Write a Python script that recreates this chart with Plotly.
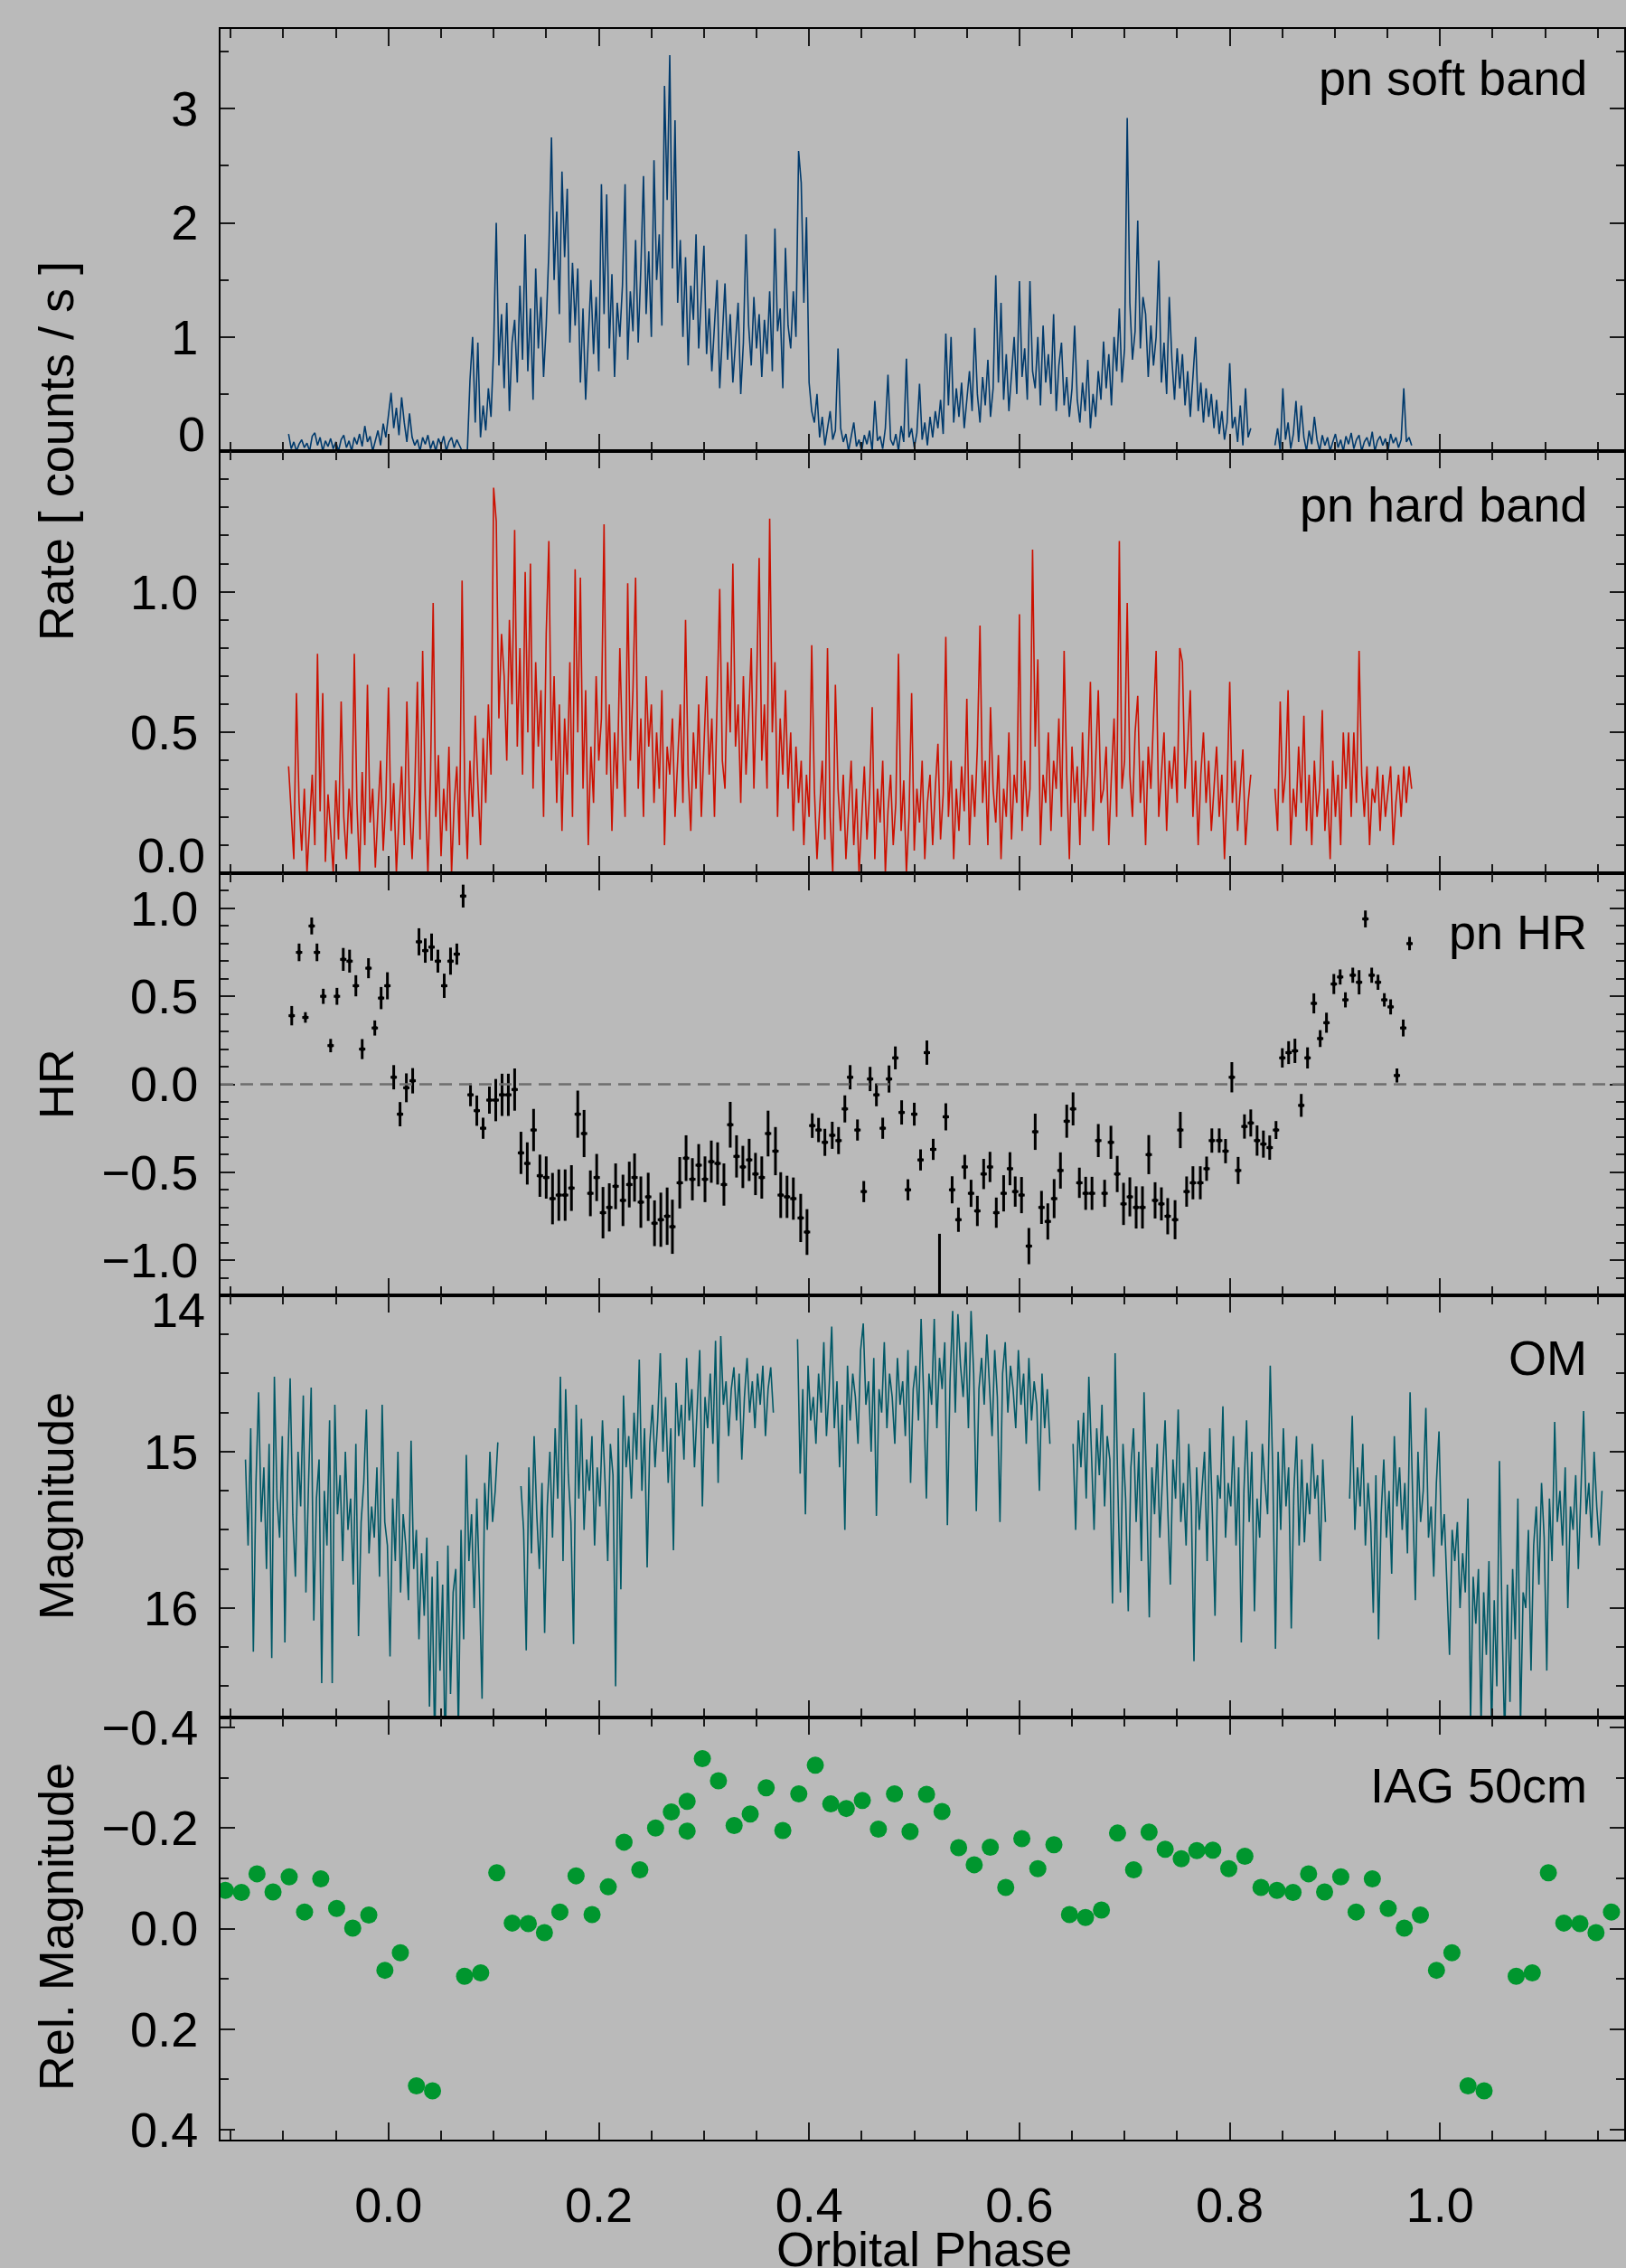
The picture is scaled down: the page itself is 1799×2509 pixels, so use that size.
import numpy as np
import plotly.graph_objects as go
from plotly.subplots import make_subplots

FONT = "Liberation Sans, Arial, Helvetica, sans-serif"
BG = "#bababa"
BIN = 0.0025  # phase width of one light-curve bin

# ---------------- EPIC-pn soft band (counts/s), two exposure segments ----------------
soft_start = [-0.095, 0.843]
soft_rate_1 = [
    0.15, 0.02, 0.08, 0.0, 0.06, 0.1, 0.03, 0.07, 0.0, 0.13,
    0.16, 0.05, 0.12, 0.0, 0.09, 0.04, 0.11, 0.02, 0.08, 0.0,
    0.1, 0.14, 0.03, 0.09, 0.0, 0.12, 0.06, 0.15, 0.04, 0.22,
    0.08, 0.13, 0.0, 0.1, 0.18, 0.05, 0.24, 0.12, 0.3, 0.51,
    0.2, 0.38, 0.14, 0.47, 0.25, 0.08, 0.33, 0.12, 0.05, 0.1,
    0.0, 0.12, 0.06, 0.14, 0.02, 0.09, 0.0, 0.11, 0.05, 0.13,
    0.0, 0.08, 0.12, 0.03, 0.1, 0.05, 0.0, 0.0, 0.0, 0.62,
    1.0, 0.25, 0.95, 0.12, 0.4, 0.18, 0.55, 0.3, 0.9, 2.0,
    0.75, 1.2, 0.55, 1.3, 0.35, 0.95, 1.15, 0.6, 1.45, 0.8,
    1.9, 0.7, 1.25, 0.45, 1.6, 0.9, 1.35, 0.65, 1.1, 1.75,
    2.75, 1.5, 2.1, 1.2, 2.45, 1.7, 2.3, 0.95, 1.65, 1.1,
    1.6, 0.6, 1.25, 0.45, 1.05, 1.5, 0.85, 1.35, 0.7, 2.34,
    1.2, 2.25, 0.9, 1.55, 0.65, 1.3, 1.0, 1.45, 2.34, 0.8,
    1.4, 1.05, 1.85, 0.95, 1.6, 2.41, 1.2, 1.75, 1.0, 2.55,
    1.5, 1.9, 1.1, 3.2, 2.2, 3.47, 1.6, 2.9, 1.3, 1.85,
    1.0, 1.7, 0.75, 1.45, 1.15, 1.9, 0.9, 1.35, 1.8, 0.85,
    1.25, 0.7, 1.1, 1.5, 0.55, 1.05, 1.47, 0.8, 1.2, 0.6,
    1.0, 1.3, 0.5, 0.95, 1.9, 1.1, 0.75, 1.35, 0.9, 1.2,
    0.65, 1.15, 0.85, 1.4, 0.7, 1.95, 1.05, 1.25, 0.55, 1.78,
    1.1, 0.9, 1.4, 1.0, 2.63, 2.35, 1.3, 2.05, 0.6, 0.35,
    0.25, 0.5, 0.12, 0.3, 0.05, 0.2, 0.35, 0.1, 0.18, 0.9,
    0.2, 0.08, 0.15, 0.0, 0.12, 0.25, 0.04, 0.1, 0.0, 0.14,
    0.06, 0.18, 0.0, 0.44, 0.09, 0.13, 0.02, 0.2, 0.67, 0.1,
    0.05, 0.15, 0.0, 0.22, 0.08, 0.81, 0.12, 0.2, 0.03, 0.16,
    0.59, 0.1, 0.25, 0.05, 0.3, 0.12, 0.35, 0.2, 0.45, 0.15,
    1.03, 0.4, 1.0, 0.25, 0.55, 0.3, 0.6, 0.2, 0.45, 0.7,
    0.35, 1.08, 0.5, 0.25, 0.65, 0.4, 0.8, 0.3, 0.55, 1.54,
    0.6, 1.3, 0.45, 0.85, 0.35, 0.7, 1.0, 0.5, 1.49, 0.65,
    0.9, 0.45, 1.49, 0.7, 0.55, 1.0, 0.4, 1.1, 0.6, 0.85,
    0.5, 1.2, 0.35, 0.75, 0.95, 0.4, 0.65, 0.3, 0.55, 1.1,
    0.45, 0.25, 0.6, 0.35, 0.8, 0.2, 0.5, 0.3, 0.7, 0.45,
    0.96, 0.55, 0.85, 0.4, 1.0, 0.7, 1.25, 0.6, 0.9, 2.92,
    1.3, 0.8, 1.05, 2.02, 0.9, 1.35, 1.2, 0.65, 1.1, 0.75,
    1.0, 1.67, 0.6, 0.95, 0.5, 1.35, 0.8, 0.45, 0.9, 0.55,
    0.85, 0.4, 0.7, 0.3, 0.65, 1.0, 0.35, 0.6, 0.25, 0.55,
    0.3, 0.5, 0.2, 0.45, 0.15, 0.35, 0.1, 0.25, 0.77, 0.2,
    0.3, 0.08, 0.4, 0.05, 0.55, 0.12, 0.2,
]
soft_rate_2 = [
    0.05, 0.2, 0.0, 0.55, 0.1, 0.25, 0.02, 0.15, 0.44, 0.08,
    0.4, 0.12, 0.0, 0.18, 0.06, 0.3, 0.1, 0.0, 0.14, 0.05,
    0.12, 0.0, 0.08, 0.15, 0.03, 0.1, 0.0, 0.13, 0.06, 0.16,
    0.02, 0.1, 0.14, 0.0, 0.08, 0.12, 0.04, 0.17, 0.0, 0.09,
    0.13, 0.05, 0.11, 0.0, 0.15, 0.07, 0.12, 0.03, 0.1, 0.55,
    0.08, 0.12, 0.05,
]

# ---------------- EPIC-pn hard band (counts/s) ----------------
hard_rate_1 = [
    0.38, 0.2, 0.05, 0.64, 0.25, 0.08, 0.3, 0.0, 0.18, 0.35,
    0.1, 0.78, 0.22, 0.64, 0.04, 0.28, 0.15, 0.0, 0.33, 0.12,
    0.61, 0.2, 0.05, 0.3, 0.14, 0.78, 0.25, 0.0, 0.36, 0.1,
    0.67, 0.18, 0.3, 0.02, 0.22, 0.4, 0.08, 0.26, 0.66, 0.15,
    0.32, 0.0, 0.2, 0.38, 0.1, 0.61, 0.24, 0.05, 0.3, 0.68,
    0.12, 0.79, 0.28, 0.0, 0.35, 0.96, 0.2, 0.42, 0.06, 0.3,
    0.15, 0.45, 0.0, 0.25, 0.38, 0.1, 1.04, 0.3, 0.05, 0.4,
    0.2, 0.56, 0.32, 0.1, 0.48, 0.25, 0.6, 0.35, 1.37, 1.25,
    0.55, 0.85, 0.7, 0.4, 0.9, 0.6, 1.22, 0.45, 0.8, 0.35,
    1.07, 0.5, 1.1, 0.3, 0.75, 0.45, 0.65, 0.2, 0.85, 1.18,
    0.4, 0.7, 0.25, 0.6, 0.15, 0.55, 0.35, 0.75, 0.2, 1.08,
    0.5, 1.05, 0.3, 0.65, 0.1, 0.45, 0.25, 0.7, 0.4, 0.55,
    1.24, 0.35, 0.6, 0.15, 0.5, 0.3, 0.8, 0.45, 0.2, 1.03,
    0.4, 0.65, 1.05, 0.3, 0.55, 0.2, 0.7, 0.45, 0.6, 0.25,
    0.5, 0.3, 0.65, 0.1, 0.45, 0.35, 0.55, 0.2, 0.4, 0.6,
    0.25, 0.9, 0.35, 0.15, 0.5, 0.3, 0.6, 0.2, 0.45, 0.7,
    0.35, 0.55, 0.2, 0.65, 1.01, 0.4, 0.3, 0.75, 0.5, 1.1,
    0.45, 0.6, 0.25, 0.7, 0.35, 0.55, 0.8, 0.3, 0.65, 1.12,
    0.4, 0.6, 0.3, 1.26, 0.5, 0.75, 0.2, 0.55, 0.35, 0.65,
    0.3, 0.5, 0.15, 0.45, 0.25, 0.4, 0.1, 0.35, 0.2, 0.81,
    0.3, 0.05, 0.25, 0.4, 0.12, 0.8, 0.2, 0.0, 0.67, 0.3,
    0.15, 0.35, 0.05, 0.25, 0.4, 0.1, 0.3, 0.0, 0.2, 0.38,
    0.12, 0.28, 0.59, 0.05, 0.3, 0.18, 0.4, 0.0, 0.22, 0.35,
    0.1, 0.25, 0.78, 0.15, 0.33, 0.0, 0.2, 0.64, 0.08, 0.3,
    0.18, 0.4, 0.05, 0.25, 0.35, 0.1, 0.3, 0.46, 0.12, 0.28,
    0.84, 0.2, 0.4, 0.05, 0.3, 0.15, 0.38, 0.22, 0.62, 0.1,
    0.35, 0.2, 0.45, 0.88, 0.25, 0.4, 0.1, 0.59, 0.3, 0.18,
    0.42, 0.05, 0.3, 0.2, 0.5, 0.12, 0.35, 0.25, 0.92, 0.15,
    0.4, 0.2, 0.3, 1.15, 0.45, 0.76, 0.1, 0.35, 0.25, 0.5,
    0.15, 0.4, 0.3, 0.55, 0.2, 0.79, 0.35, 0.05, 0.45, 0.25,
    0.38, 0.1, 0.5, 0.2, 0.35, 0.68, 0.15, 0.4, 0.65, 0.25,
    0.3, 0.45, 0.1, 0.35, 0.55, 0.2, 1.18, 0.3, 0.4, 0.96,
    0.35, 0.2, 0.5, 0.63, 0.25, 0.4, 0.1, 0.45, 0.3, 0.55,
    0.79, 0.2, 0.35, 0.5, 0.15, 0.4, 0.3, 0.45, 0.25, 0.8,
    0.75, 0.3, 0.45, 0.65, 0.2, 0.4, 0.1, 0.35, 0.5, 0.25,
    0.4, 0.15, 0.3, 0.45, 0.2, 0.35, 0.05, 0.3, 0.68, 0.25,
    0.4, 0.15, 0.3, 0.44, 0.1, 0.25, 0.35,
]
hard_rate_2 = [
    0.3, 0.15, 0.61, 0.25, 0.35, 0.65, 0.1, 0.3, 0.2, 0.45,
    0.25, 0.56, 0.15, 0.35, 0.1, 0.4, 0.2, 0.3, 0.58, 0.15,
    0.3, 0.05, 0.4, 0.2, 0.35, 0.1, 0.5, 0.3, 0.5, 0.2,
    0.5, 0.25, 0.79, 0.35, 0.2, 0.38, 0.1, 0.3, 0.25, 0.38,
    0.15, 0.35, 0.2, 0.3, 0.38, 0.1, 0.25, 0.35, 0.2, 0.38,
    0.25, 0.38, 0.3,
]

# ---------------- EPIC-pn hardness ratio ----------------
hr_phase = [
    -0.092, -0.085, -0.079, -0.073, -0.068, -0.062, -0.055, -0.049, -0.043, -0.037,
    -0.031, -0.025, -0.019, -0.013, -0.007, -0.001, 0.005, 0.011, 0.017, 0.023,
    0.029, 0.035, 0.041, 0.047, 0.053, 0.059, 0.065, 0.071, 0.078, 0.084,
    0.090, 0.096, 0.102, 0.108, 0.114, 0.120, 0.126, 0.132, 0.138, 0.144,
    0.150, 0.156, 0.162, 0.168, 0.174, 0.180, 0.186, 0.192, 0.198, 0.204,
    0.210, 0.216, 0.223, 0.229, 0.234, 0.240, 0.247, 0.253, 0.259, 0.265,
    0.270, 0.277, 0.283, 0.289, 0.295, 0.301, 0.307, 0.313, 0.319, 0.325,
    0.331, 0.337, 0.343, 0.349, 0.355, 0.361, 0.368, 0.373, 0.379, 0.385,
    0.392, 0.398, 0.403, 0.409, 0.415, 0.422, 0.428, 0.434, 0.439, 0.446,
    0.452, 0.458, 0.464, 0.470, 0.476, 0.482, 0.488, 0.494, 0.500, 0.506,
    0.512, 0.518, 0.524, 0.530, 0.536, 0.542, 0.548, 0.554, 0.560, 0.566,
    0.572, 0.578, 0.585, 0.591, 0.596, 0.602, 0.609, 0.615, 0.621, 0.627,
    0.633, 0.639, 0.645, 0.651, 0.657, 0.663, 0.669, 0.675, 0.681, 0.687,
    0.693, 0.699, 0.705, 0.711, 0.717, 0.723, 0.729, 0.735, 0.741, 0.748,
    0.753, 0.759, 0.765, 0.772, 0.778, 0.783, 0.790, 0.796, 0.802, 0.808,
    0.814, 0.820, 0.826, 0.832, 0.838, 0.844, 0.850, 0.856, 0.862, 0.868,
    0.874, 0.880, 0.886, 0.892, 0.899, 0.905, 0.910, 0.917, 0.923, 0.929,
    0.935, 0.941, 0.947, 0.953, 0.959, 0.965, 0.971,
]
hr_value = [
    0.39, 0.75, 0.38, 0.90, 0.75, 0.50, 0.22, 0.50, 0.71, 0.70,
    0.56, 0.20, 0.66, 0.32, 0.49, 0.56, 0.04, -0.17, -0.02, 0.02,
    0.81, 0.76, 0.78, 0.70, 0.56, 0.70, 0.74, 1.07, -0.06, -0.15,
    -0.25, -0.09, -0.09, -0.06, -0.06, -0.03, -0.39, -0.45, -0.26, -0.52,
    -0.53, -0.65, -0.63, -0.63, -0.59, -0.17, -0.28, -0.62, -0.53, -0.73,
    -0.70, -0.58, -0.66, -0.57, -0.53, -0.67, -0.64, -0.79, -0.77, -0.75,
    -0.81, -0.56, -0.42, -0.54, -0.46, -0.54, -0.44, -0.45, -0.57, -0.23,
    -0.41, -0.47, -0.43, -0.51, -0.53, -0.28, -0.38, -0.63, -0.64, -0.65,
    -0.76, -0.84, -0.235, -0.26, -0.33, -0.29, -0.32, -0.14, 0.04, -0.26,
    -0.61, 0.03, -0.06, -0.25, 0.03, 0.15, -0.16, -0.60, -0.17, -0.43,
    0.18, -0.37, -1.35, -0.185, -0.60, -0.77, -0.47, -0.62, -0.72, -0.51,
    -0.47, -0.73, -0.62, -0.48, -0.61, -0.63, -0.92, -0.27, -0.70, -0.78,
    -0.65, -0.49, -0.21, -0.14, -0.56, -0.62, -0.62, -0.32, -0.62, -0.33,
    -0.51, -0.68, -0.64, -0.70, -0.70, -0.40, -0.66, -0.68, -0.75, -0.77,
    -0.26, -0.61, -0.56, -0.56, -0.48, -0.32, -0.32, -0.38, 0.04, -0.49,
    -0.24, -0.22, -0.32, -0.34, -0.36, -0.26, 0.15, 0.18, 0.19, -0.12,
    0.15, 0.46, 0.26, 0.35, 0.57, 0.61, 0.48, 0.62, 0.58, 0.94,
    0.62, 0.58, 0.48, 0.44, 0.05, 0.32, 0.80,
]
hr_error = [
    0.055, 0.050, 0.030, 0.048, 0.050, 0.043, 0.038, 0.048, 0.065, 0.065,
    0.060, 0.057, 0.057, 0.043, 0.063, 0.077, 0.069, 0.069, 0.082, 0.072,
    0.077, 0.069, 0.077, 0.065, 0.069, 0.077, 0.060, 0.065, 0.065, 0.086,
    0.060, 0.077, 0.120, 0.120, 0.120, 0.120, 0.120, 0.120, 0.120, 0.120,
    0.120, 0.146, 0.146, 0.146, 0.130, 0.134, 0.134, 0.130, 0.134, 0.146,
    0.137, 0.130, 0.146, 0.130, 0.137, 0.146, 0.137, 0.130, 0.154, 0.163,
    0.154, 0.146, 0.130, 0.120, 0.120, 0.130, 0.120, 0.120, 0.120, 0.130,
    0.120, 0.120, 0.120, 0.120, 0.120, 0.130, 0.137, 0.130, 0.120, 0.120,
    0.137, 0.130, 0.070, 0.069, 0.077, 0.077, 0.077, 0.077, 0.069, 0.060,
    0.060, 0.069, 0.065, 0.060, 0.077, 0.065, 0.069, 0.060, 0.065, 0.060,
    0.069, 0.060, 0.500, 0.077, 0.077, 0.069, 0.069, 0.077, 0.086, 0.086,
    0.086, 0.086, 0.103, 0.094, 0.086, 0.103, 0.103, 0.103, 0.094, 0.103,
    0.111, 0.103, 0.094, 0.094, 0.086, 0.094, 0.094, 0.094, 0.077, 0.094,
    0.103, 0.120, 0.111, 0.120, 0.120, 0.111, 0.103, 0.094, 0.103, 0.111,
    0.103, 0.086, 0.094, 0.094, 0.069, 0.069, 0.069, 0.069, 0.086, 0.077,
    0.069, 0.077, 0.086, 0.077, 0.069, 0.051, 0.055, 0.065, 0.069, 0.065,
    0.060, 0.057, 0.048, 0.057, 0.057, 0.043, 0.043, 0.043, 0.069, 0.048,
    0.043, 0.043, 0.038, 0.043, 0.040, 0.048, 0.038,
]

# ---------------- Optical Monitor magnitudes, five exposures ----------------
om_start = [-0.136, 0.126, 0.389, 0.651, 0.914]
om_mag_1 = [
    15.05, 15.6, 14.85, 16.28, 15.2, 14.62, 15.45, 15.1, 15.75, 14.95,
    16.32, 14.52, 15.3, 15.55, 14.9, 16.22, 15.15, 14.53, 15.4, 15.8,
    15.0, 15.35, 14.64, 15.9, 15.2, 14.59, 16.08, 15.3, 15.05, 16.48,
    15.25, 15.6, 14.8, 16.48, 14.7, 15.4, 15.15, 15.7, 15.0, 15.5,
    15.3, 15.85, 14.95, 16.18, 15.45, 15.2, 14.73, 15.65, 15.35, 15.55,
    15.1, 15.8, 14.7, 15.45, 15.6, 16.31, 15.3, 15.7, 15.0, 15.9,
    15.4, 15.6, 15.95, 14.93, 15.75, 15.5, 16.2, 15.65, 16.05, 15.55,
    16.63, 15.8, 16.9, 15.7, 16.4, 15.85, 17.0, 15.6, 16.55, 15.9,
    15.75, 16.8, 15.5, 16.2, 15.02, 15.7, 15.4, 16.0, 15.3, 15.85,
    16.58, 15.2, 15.5, 15.0, 15.45, 15.25, 14.94,
]
om_mag_2 = [
    15.22, 15.5, 16.27, 15.1, 15.65, 14.9, 15.4, 15.75, 15.2, 16.16,
    15.35, 15.0, 15.55, 14.85, 15.3, 14.52, 15.7, 14.6, 15.15, 15.45,
    16.23, 14.7, 15.3, 14.79, 15.5, 15.05, 15.25, 14.9, 15.6, 15.1,
    15.35, 14.8, 15.2, 15.7, 14.95, 15.15, 16.5, 14.85, 15.88, 14.64,
    15.1, 14.9, 15.3, 14.75, 15.05, 14.41, 15.25, 14.85, 15.74, 14.95,
    14.7, 15.1, 14.8, 14.37, 15.0, 14.65, 15.2, 14.85, 15.63, 14.56,
    14.9, 14.7, 15.05, 14.4, 14.8, 14.6, 15.1, 14.75, 14.35, 15.35,
    14.65, 14.85, 14.5, 14.95, 14.29, 15.2, 14.26, 14.7, 14.55, 14.9,
    14.6, 14.46, 14.8, 14.5, 15.05, 14.65, 14.4, 14.75, 14.55, 14.85,
    14.5, 14.7, 14.45, 14.9, 14.6, 14.46, 14.75,
]
om_mag_3 = [
    14.28, 15.14, 14.6, 15.4, 14.45, 14.8, 14.65, 14.95, 14.5, 14.75,
    14.3, 14.9, 14.6, 14.2, 14.85, 14.55, 15.1, 14.7, 15.5, 14.45,
    14.8, 14.5, 14.65, 14.95, 14.35, 14.18, 14.7, 14.55, 15.0, 14.4,
    15.41, 14.6, 14.75, 14.3, 14.85, 14.5, 14.65, 14.95, 14.4, 14.7,
    14.55, 14.9, 14.35, 15.2, 14.6, 14.45, 14.8, 14.15, 14.65, 15.3,
    14.5, 14.7, 14.15, 14.85, 14.4, 14.6, 14.3, 15.47, 14.55, 14.1,
    14.75, 14.12, 14.45, 14.65, 14.3, 14.85, 14.1, 14.5, 15.38, 14.6,
    14.4, 14.7, 14.25, 14.55, 14.9, 14.35, 14.65, 15.45, 14.5, 14.3,
    14.75, 14.45, 14.6, 14.85, 14.35, 14.7, 14.5, 14.95, 14.4, 14.8,
    14.55, 14.7, 15.25, 14.5, 14.85, 14.6, 14.95,
]
om_mag_4 = [
    14.95, 15.5, 14.8, 15.1, 14.75, 15.3, 14.52, 15.0, 15.5, 14.85,
    15.15, 14.7, 15.35, 14.9, 15.05, 15.97, 14.37, 15.2, 15.9, 14.95,
    15.3, 16.02, 15.1, 14.85, 15.45, 15.0, 15.7, 14.62, 15.25, 16.06,
    15.1, 15.4, 14.95, 15.55, 15.2, 14.8, 15.35, 15.85, 15.05, 15.3,
    14.73, 15.45, 15.2, 15.6, 14.95, 15.35, 16.34, 15.1, 15.5, 15.25,
    15.0, 15.7, 14.85, 15.4, 16.05, 15.15, 15.3, 14.71, 15.55, 15.2,
    15.35, 14.9, 15.6, 15.1, 16.22, 15.25, 14.8, 15.45, 15.0, 16.02,
    15.3, 15.55, 14.95, 15.2, 15.4, 14.45, 15.15, 16.26, 15.0, 15.5,
    14.85, 15.35, 15.1, 16.13, 15.25, 14.9, 15.6, 15.05, 15.58, 15.2,
    15.4, 14.95, 15.3, 15.15, 15.7, 15.05, 15.45,
]
om_mag_5 = [
    15.3, 14.77, 15.5, 15.1, 15.35, 14.95, 15.6, 15.2, 15.45, 16.03,
    15.15, 16.2, 15.4, 15.05, 15.55, 15.25, 15.78, 14.9, 15.35, 15.1,
    15.5, 15.2, 15.65, 14.62, 15.3, 15.95, 15.0, 15.45, 15.25, 14.72,
    15.55, 15.35, 15.8, 15.2, 14.87, 15.6, 15.4, 15.9, 16.3, 15.5,
    15.7, 15.45, 16.0, 15.65, 15.9, 15.3, 16.72, 15.8, 16.1, 15.75,
    16.75, 15.9, 16.3, 15.7, 16.8, 15.95, 16.5, 15.06, 16.1, 16.85,
    15.85, 16.6, 15.75, 16.2, 15.3, 16.75, 15.9, 16.0, 15.5, 16.4,
    15.6, 15.35, 15.85, 15.2, 15.55, 16.4, 15.3, 15.7, 14.81, 15.45,
    15.25, 15.6, 15.1, 16.0, 15.35, 15.5, 15.15, 15.75, 15.3, 14.74,
    15.4, 15.2, 15.55, 15.0, 15.35, 15.6, 15.25,
]

# ---------------- IAG 50cm photometry, one orbital cycle ----------------
iag_phase = [
    0.0113, 0.0266, 0.0419, 0.0724, 0.0877, 0.1030, 0.1177, 0.1330, 0.1483, 0.1630,
    0.1784, 0.1936, 0.2090, 0.2240, 0.2390, 0.2540, 0.2690, 0.2840, 0.2840, 0.2985,
    0.3138, 0.3287, 0.3440, 0.3592, 0.3750, 0.3902, 0.4059, 0.4206, 0.4354, 0.4506,
    0.4659, 0.4812, 0.4960, 0.5117, 0.5264, 0.5422, 0.5570, 0.5723, 0.5870, 0.6023,
    0.6175, 0.6328, 0.6476, 0.6628, 0.6780, 0.6933, 0.7086, 0.7233, 0.7386, 0.7539,
    0.7687, 0.7839, 0.7991, 0.8144, 0.8297, 0.8449, 0.8602, 0.8750, 0.8902, 0.9056,
    0.9202, 0.9356, 0.9507, 0.9660, 0.9813, 0.9966,
]
iag_relmag = [
    0.048, 0.313, 0.323, 0.095, 0.088, -0.111, -0.011, -0.010, 0.008, -0.033,
    -0.105, -0.028, -0.083, -0.172, -0.117, -0.200, -0.232, -0.253, -0.194, -0.338,
    -0.294, -0.205, -0.228, -0.280, -0.195, -0.268, -0.325, -0.248, -0.239, -0.255,
    -0.198, -0.268, -0.193, -0.267, -0.233, -0.161, -0.127, -0.162, -0.082, -0.179,
    -0.119, -0.167, -0.028, -0.022, -0.037, -0.190, -0.117, -0.192, -0.158, -0.139,
    -0.155, -0.156, -0.119, -0.144, -0.082, -0.076, -0.072, -0.109, -0.073, -0.103,
    -0.033, -0.099, -0.040, -0.001, -0.027, 0.083,
]

X_RANGE = [-0.1597, 1.1751]


def segments(starts, series):
    """Join binned segments into one x/y pair, with gaps between exposures."""
    xs, ys = [], []
    for s, vals in zip(starts, series):
        ph = s + BIN * np.arange(len(vals))
        xs += list(ph) + [None]
        ys += list(vals) + [None]
    return xs, ys


fig = make_subplots(rows=5, cols=1, shared_xaxes=True, vertical_spacing=0)

sx, sy = segments(soft_start, [soft_rate_1, soft_rate_2])
fig.add_trace(go.Scatter(x=sx, y=sy, mode="lines", line=dict(color="#003a6c", width=1.6),
                         connectgaps=False), row=1, col=1)

hx, hy = segments(soft_start, [hard_rate_1, hard_rate_2])
fig.add_trace(go.Scatter(x=hx, y=hy, mode="lines", line=dict(color="#cc1000", width=1.6),
                         connectgaps=False), row=2, col=1)

fig.add_trace(go.Scatter(
    x=hr_phase, y=hr_value, mode="markers",
    marker=dict(color="black", size=4, symbol="square"),
    error_y=dict(type="data", array=hr_error, color="black", thickness=3, width=0),
    error_x=dict(type="constant", value=0.003, color="black", thickness=3, width=0),
), row=3, col=1)

ox, oy = segments(om_start, [om_mag_1, om_mag_2, om_mag_3, om_mag_4, om_mag_5])
fig.add_trace(go.Scatter(x=ox, y=oy, mode="lines", line=dict(color="#005866", width=1.6),
                         connectgaps=False), row=4, col=1)

# fold the IAG cycle over the plotted phase interval
ip = np.array(iag_phase)
im = np.array(iag_relmag)
fx, fy = [], []
for k in (-1, 0, 1):
    sel = (ip + k >= X_RANGE[0]) & (ip + k <= X_RANGE[1])
    fx += list(ip[sel] + k)
    fy += list(im[sel])
fig.add_trace(go.Scatter(x=fx, y=fy, mode="markers",
                         marker=dict(color="#00962e", size=19, line=dict(width=0))),
              row=5, col=1)

# dashed zero line in the HR panel
fig.add_shape(type="line", xref="x3 domain", yref="y3", x0=0, x1=1, y0=0, y1=0,
              line=dict(color="#6e6e6e", width=2.5, dash="14px,8px"))

tickfont = dict(family=FONT, size=54, color="black")
axis_common = dict(showline=True, linecolor="black", linewidth=2, mirror="allticks",
                   ticks="inside", tickcolor="#1a1a1a", tickwidth=2,
                   showgrid=False, zeroline=False, tickfont=tickfont)

for r in range(1, 6):
    fig.update_xaxes(
        range=X_RANGE, tickmode="array", tickvals=[0.0, 0.2, 0.4, 0.6, 0.8, 1.0],
        tickformat=".1f", ticklen=19, showticklabels=(r == 5), ticklabelstandoff=24,
        minor=dict(ticks="inside", tickmode="array",
                   tickvals=list(np.round(np.arange(-0.15, 1.18, 0.05), 3)),
                   ticklen=10, tickwidth=2, tickcolor="#1a1a1a", showgrid=False),
        row=r, col=1, **axis_common)

y_setup = [
    dict(range=[0, 3.7], tickvals=[1, 2, 3], tickformat="d",
         minor_vals=np.arange(0.5, 3.6, 0.5)),
    dict(range=[0, 1.5], tickvals=[0.5, 1.0], tickformat=".1f",
         minor_vals=np.arange(0.1, 1.45, 0.1)),
    dict(range=[-1.2, 1.2], tickvals=[-1.0, -0.5, 0.0, 0.5, 1.0], tickformat=".1f",
         minor_vals=np.arange(-1.1, 1.15, 0.1)),
    dict(range=[16.70, 14.0], tickvals=[15, 16], tickformat="d",
         minor_vals=np.arange(14.25, 16.7, 0.25)),
    dict(range=[0.42, -0.42], tickvals=[-0.4, -0.2, 0.0, 0.2, 0.4], tickformat=".1f",
         minor_vals=np.arange(-0.3, 0.35, 0.2)),
]
for r, cfg in enumerate(y_setup, start=1):
    fig.update_yaxes(
        range=cfg["range"], tickmode="array", tickvals=cfg["tickvals"],
        tickformat=cfg["tickformat"], ticklen=16, ticklabelstandoff=12,
        minor=dict(ticks="inside", tickmode="array",
                   tickvals=list(np.round(cfg["minor_vals"], 3)),
                   ticklen=9, tickwidth=2, tickcolor="#1a1a1a", showgrid=False),
        row=r, col=1, **axis_common)

# page geometry (pixels) used for placing the free text
W, H = 1799, 2509
ML, MR, MT, MB = 244, 0, 32, 142
PW, PH = W - ML - MR, H - MT - MB


def px(x):
    return (x - ML) / PW


def py(y):
    return (H - MB - y) / PH


annotations = []
# labels at the panel edges sit just inside the frame
for txt, y in [("0", 480), ("0.0", 946), ("14", 1449)]:
    annotations.append(dict(text=txt, x=px(229), y=py(y), xref="paper", yref="paper",
                            xanchor="right", yanchor="middle", showarrow=False, font=tickfont))
# panel captions
for txt, y in [("pn soft band", 86), ("pn hard band", 558), ("pn HR", 1031),
               ("OM", 1502), ("IAG 50cm", 1975)]:
    annotations.append(dict(text=txt, x=px(1760), y=py(y), xref="paper", yref="paper",
                            xanchor="right", yanchor="middle", showarrow=False, font=tickfont))
# axis titles
for txt, y in [("Rate [ counts / s ]", 499), ("HR", 1199), ("Magnitude", 1666),
               ("Rel. Magnitude", 2132)]:
    annotations.append(dict(text=txt, x=px(62), y=py(y), xref="paper", yref="paper",
                            xanchor="center", yanchor="middle", textangle=-90,
                            showarrow=False, font=tickfont))
annotations.append(dict(text="Orbital Phase", x=px(1024), y=py(2488), xref="paper", yref="paper",
                        xanchor="center", yanchor="middle", showarrow=False, font=tickfont))

fig.update_layout(
    width=W, height=H,
    margin=dict(l=ML, r=MR, t=MT, b=MB, pad=0),
    paper_bgcolor=BG, plot_bgcolor=BG,
    showlegend=False,
    font=dict(family=FONT, size=54, color="black"),
    annotations=annotations,
)

fig.write_html("out.html")
